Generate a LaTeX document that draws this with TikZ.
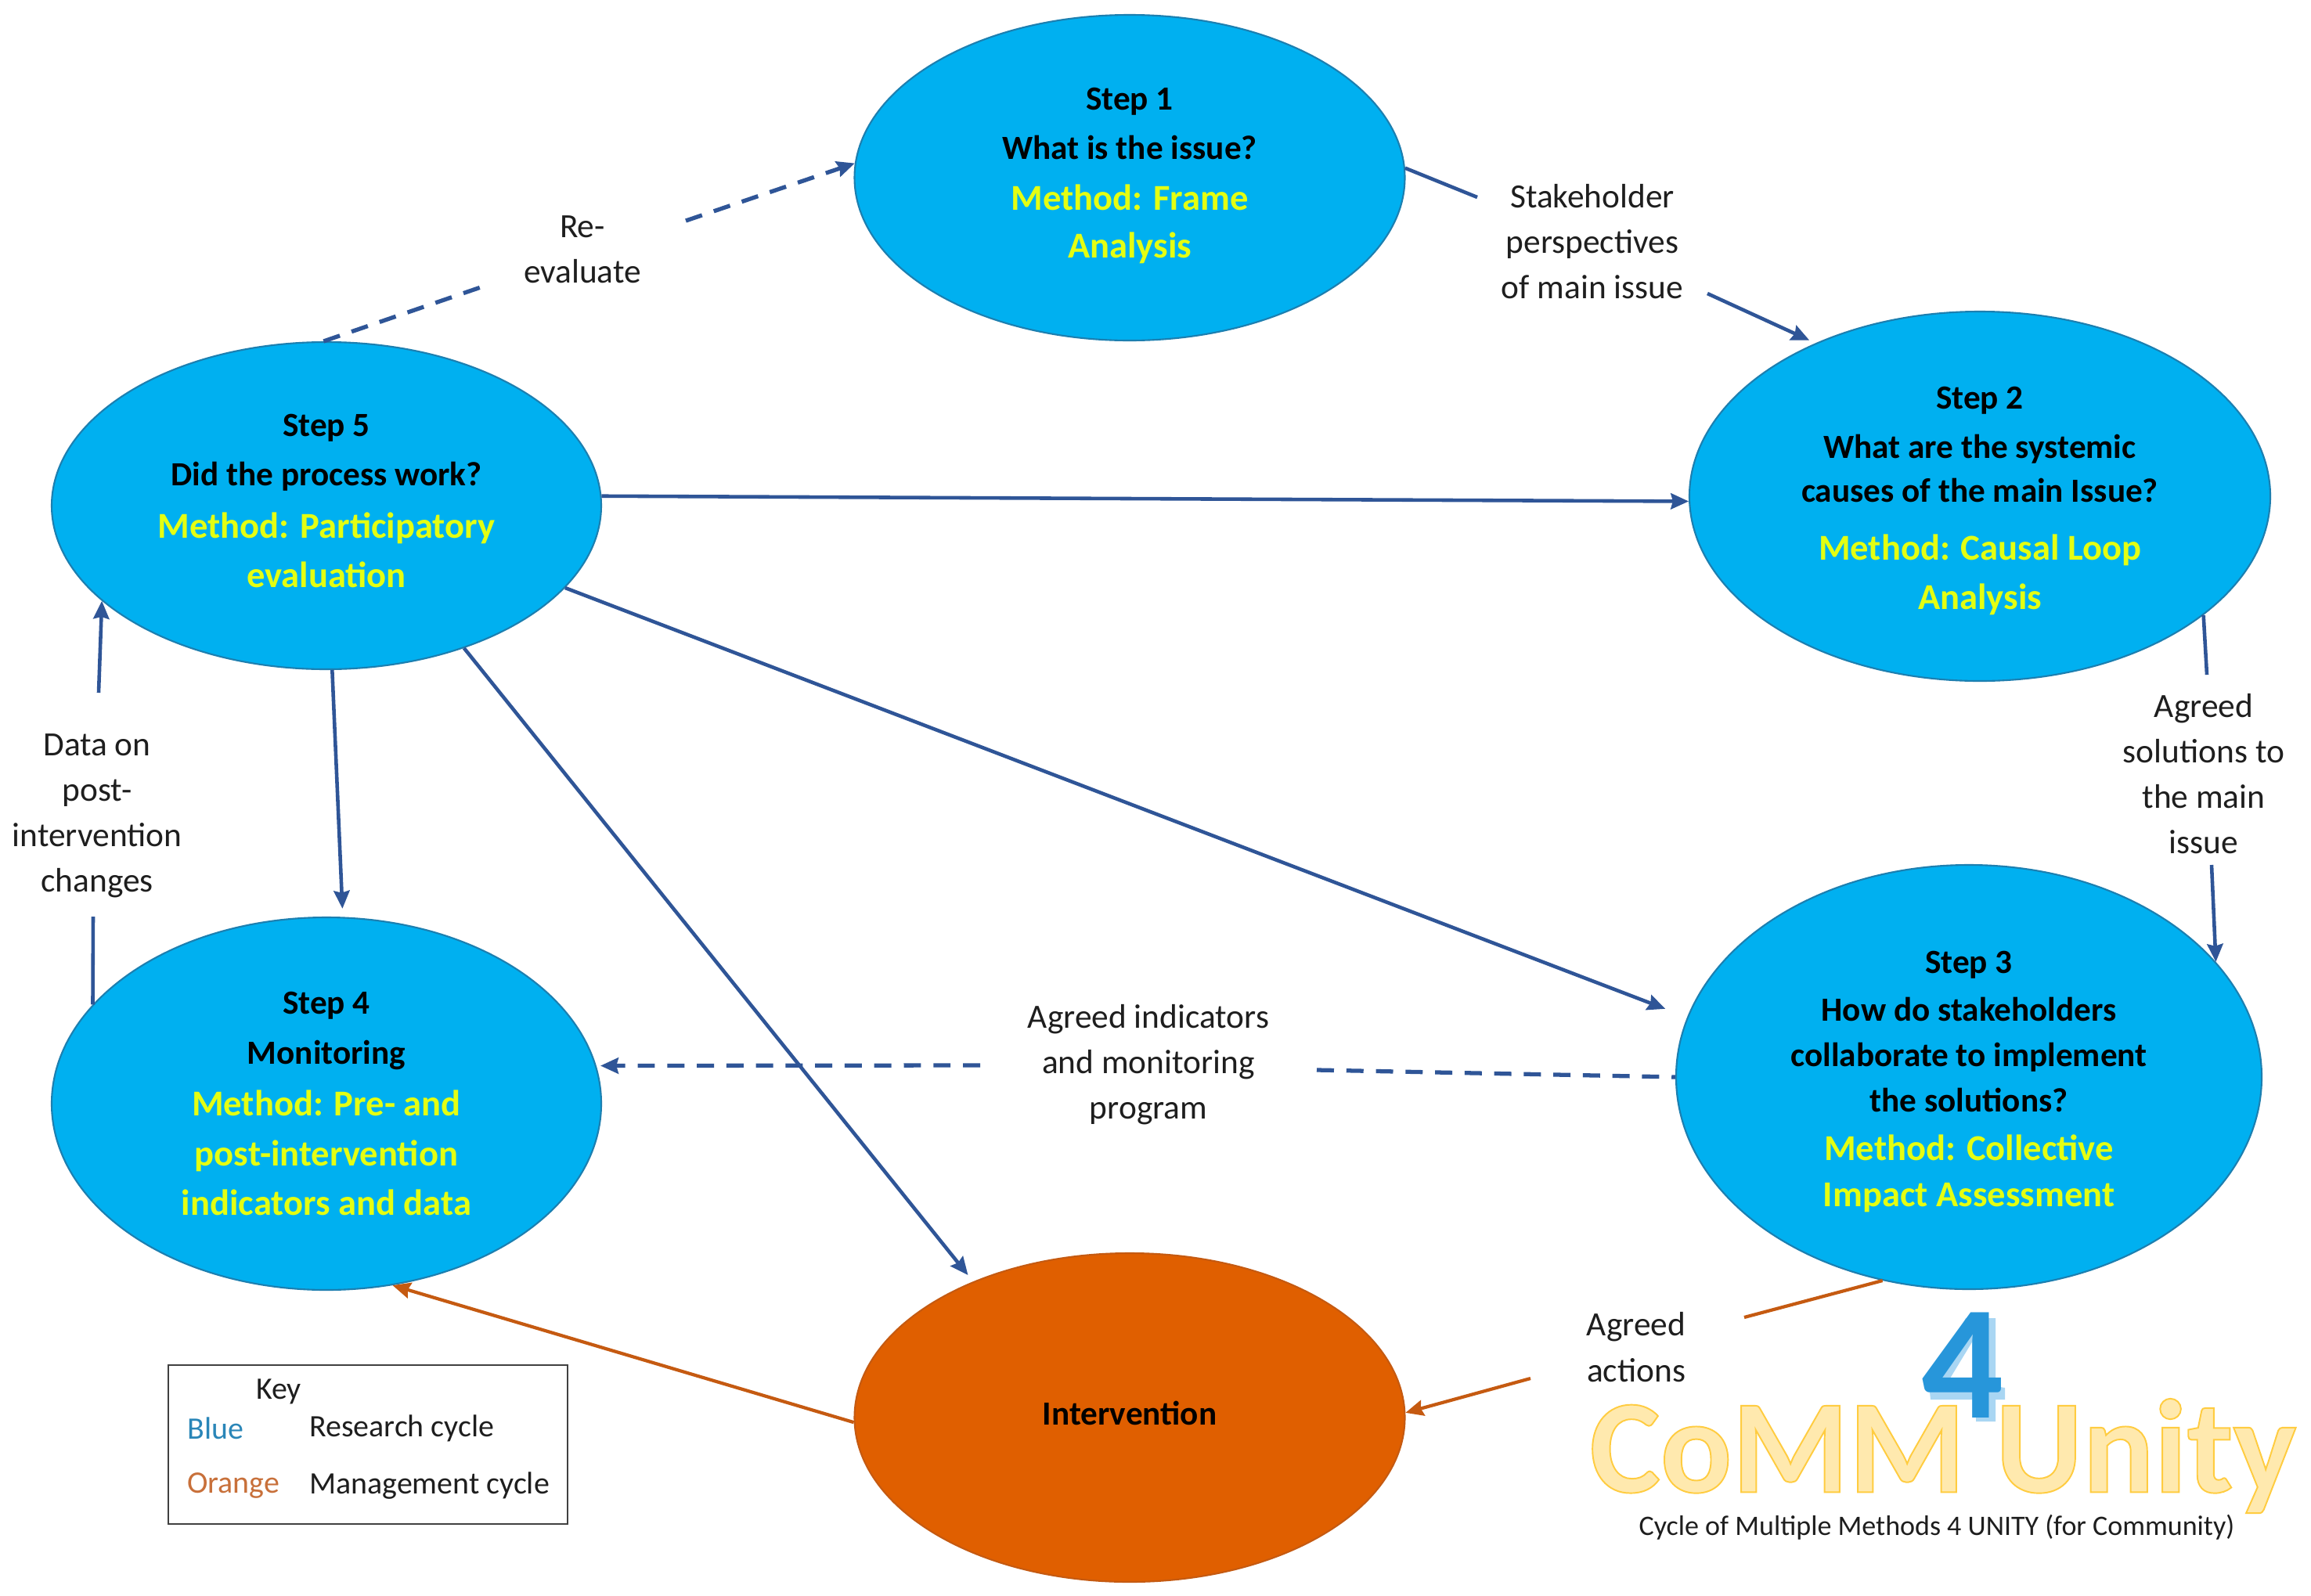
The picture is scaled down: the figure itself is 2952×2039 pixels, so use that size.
\documentclass[tikz,border=0pt]{standalone}
\usepackage{fontspec}
\setmainfont{Carlito}
\usetikzlibrary{shapes.geometric,arrows.meta}
\definecolor{cyanfill}{HTML}{00B0F0}
\definecolor{cyanedge}{HTML}{1C7FB0}
\definecolor{orangefill}{HTML}{E05F00}
\definecolor{linkblue}{HTML}{2F5597}
\definecolor{linkorange}{HTML}{C55A11}
\definecolor{methodyellow}{HTML}{E4FF12}
\definecolor{logoblue}{HTML}{2796DA}
\definecolor{logoshadow}{HTML}{A9D6F3}
\definecolor{logogold}{HTML}{FFE9AE}
\definecolor{keyblue}{HTML}{2A86B8}
\definecolor{keyorange}{HTML}{C8703A}
\definecolor{txt}{HTML}{1E1E1E}
\newcommand{\mth}[1]{\textcolor{methodyellow}{\fontsize{26.5}{32}\selectfont #1}}
\tikzset{
  stepnode/.style={ellipse,draw=cyanedge,fill=cyanfill,line width=1.2pt,inner sep=0pt,align=center,
     font=\fontsize{24.6}{32}\selectfont\bfseries,text=black},
  lab/.style={align=center,font=\fontsize{24.7}{33}\selectfont,text=txt,inner sep=0pt},
  keytxt/.style={anchor=west,font=\fontsize{22.7}{28}\selectfont,text=txt,inner sep=0pt},
  link/.style={line width=2.6pt,draw=linkblue},
  linko/.style={line width=2.4pt,draw=linkorange},
  head/.style={-{Stealth[length=13pt,width=11.5pt,inset=1.5pt]}},
  dashy/.style={line width=3pt,dash pattern=on 12.5pt off 9pt},
}
\begin{document}
\begin{tikzpicture}[x=0.02cm,y=-0.02cm]
\useasboundingbox (0,0) rectangle (2952,2039);
\fill[white] (0,0) rectangle (2952,2039);

\node[stepnode,minimum width=703*0.02cm,minimum height=416*0.02cm] (s1) at (1443,227)
  {Step 1\\[4pt] What is the issue?\\[5pt] \mth{Method: Frame}\\[3pt] \mth{Analysis}\\[-25pt]\mbox{}};
\node[stepnode,minimum width=742*0.02cm,minimum height=472*0.02cm] (s2) at (2529,634)
  {\mbox{}\\[-9pt]Step 2\\[4pt] What are the systemic\\ causes of the main Issue?\\[10pt] \mth{Method: Causal Loop}\\[4pt] \mth{Analysis}};
\node[stepnode,minimum width=748*0.02cm,minimum height=542*0.02cm] (s3) at (2515,1376)
  {\mbox{}\\[-9pt]Step 3\\[3pt] How do stakeholders\\[1pt] collaborate to implement\\[1pt] the solutions?\\[3pt] \mth{Method: Collective}\\[2pt] \mth{Impact Assessment}};
\node[stepnode,minimum width=702*0.02cm,minimum height=476*0.02cm] (s4) at (417,1410)
  {Step 4\\[4pt] Monitoring\\[6pt] \mth{Method: Pre- and}\\[4pt] \mth{post-intervention}\\[4pt] \mth{indicators and data}};
\node[stepnode,minimum width=702*0.02cm,minimum height=418*0.02cm] (s5) at (417,646)
  {Step 5\\[4pt] Did the process work?\\[6pt] \mth{Method: Participatory}\\[4pt] \mth{evaluation}\\[-25pt]\mbox{}};
\node[stepnode,draw=linkorange,fill=orangefill,minimum width=703*0.02cm,minimum height=420*0.02cm] (int) at (1443,1811) {Intervention\\[-25pt]\mbox{}};

\node[lab] (lre) at (744,319) {Re-\\evaluate};
\node[lab] (lst) at (2034,309) {Stakeholder\\perspectives\\of main issue};
\node[lab] (lag) at (2815,989) {Agreed\\solutions to\\the main\\issue};
\node[lab] (lin) at (1467,1360) {Agreed indicators\\and monitoring\\program};
\node[lab] (lda) at (124,1042) {Data on\\post-\\intervention\\changes};
\node[lab,font=\fontsize{24.7}{34}\selectfont] (lac) at (2090,1721) {Agreed\\actions};

\coordinate (re1) at (614,367); \coordinate (re2) at (876,282);
\coordinate (st1) at (1887,252); \coordinate (st2) at (2181,375);
\coordinate (ag1) at (2819,862); \coordinate (ag2) at (2825,1105);
\coordinate (in1) at (1682,1367); \coordinate (in2) at (1252,1361);
\coordinate (da1) at (119,1171); \coordinate (da2) at (126,885);
\coordinate (ac1) at (2228,1683); \coordinate (ac2) at (1955,1761);

\draw[link,dashy] (s5.91.6) -- (re1);
\draw[link,dashy,head] (re2) -- (s1.177.7);
\draw[link] (s1.2.6) -- (st1);
\draw[link,head,shorten >=5pt] (st2) -- (s2.137.5);
\draw[link] (s2.-28) -- (ag1);
\draw[link,head] (ag2) -- (s3.25.9);
\draw[link,dashy] (in1) -- (s3.180);
\draw[link,dashy,head,shorten >=3pt] (in2) -- (s4.8);
\draw[link] (s4.157) -- (da1);
\draw[link,head] (da2) -- (s5.203.7);
\draw[link,head] (s5.2.3) -- (s2.181);
\draw[link,head,shorten >=17pt] (s5.-19) -- (s3.168);
\draw[link,head,shorten >=6pt] (s5.-88) -- (s4.85.4);
\draw[link,head,shorten >=6pt] (s5.-46) -- (int.139);
\draw[linko] (s3.-113) -- (ac1);
\draw[linko,head] (ac2) -- (int.1.4);
\draw[linko,head] (int.181) -- (s4.-70);

\node[draw=black!75,line width=1.4pt,minimum width=510*0.02cm,minimum height=203*0.02cm,inner sep=0pt] (key) at (470,1845.5) {};
\node[keytxt] (kk) at (327,1778) {Key};
\node[keytxt,text=keyblue] (kb) at (239,1825) {Blue};
\node[keytxt] (kr) at (395,1825) {Research cycle};
\node[keytxt,text=keyorange] (ko) at (239,1898) {Orange};
\node[keytxt] (km) at (395,1898) {Management cycle};

\node[inner sep=0pt,font=\fontsize{97}{100}\selectfont\bfseries,text=logogold] (logo) at (2482,1860)
  {\special{pdf:code 2 Tr 1.1 w 1 0.8 0.25 RG}CoMM Unity\special{pdf:code 0 Tr}};
\fill[logoshadow,even odd rule,shift={(6,6)}]
  (2505,1678) -- (2543,1678) -- (2543,1765) -- (2555,1767) -- (2555,1782) -- (2543,1782) -- (2543,1810)
  -- (2518,1810) -- (2518,1782) -- (2460,1782) -- (2458,1763) -- cycle
  (2517,1702) -- (2480,1763) -- (2517,1763) -- cycle;
\node[inner sep=0pt,font=\fontsize{118}{118}\selectfont\bfseries,text=logoblue] (four) at (2507,1744) {4};
\node[inner sep=0pt,font=\fontsize{20.5}{24}\selectfont,text=txt] (sub) at (2474,1951) {Cycle of Multiple Methods 4 UNITY (for Community)};
\end{tikzpicture}
\end{document}
